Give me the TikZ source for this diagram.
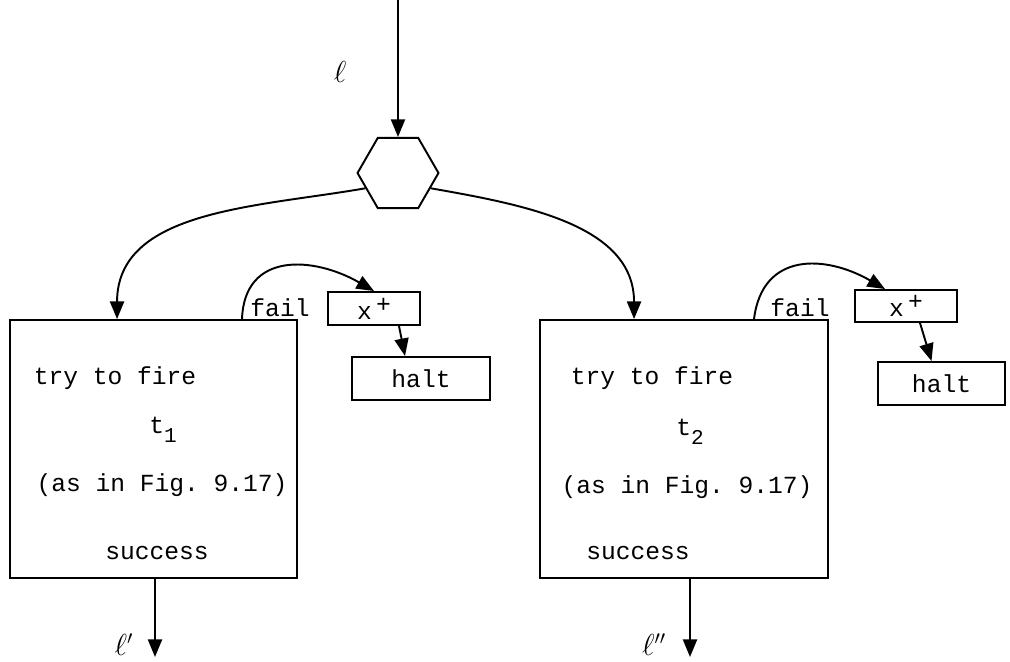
\documentclass[tikz,border=0pt]{standalone}
\usepackage{fontspec}
\setmonofont{Liberation Mono}
\usetikzlibrary{arrows.meta}
\usetikzlibrary{shapes.geometric}

\begin{document}
\begin{tikzpicture}[x=0.02cm,y=-0.02cm,line width=1.1pt,
  tw/.style={font=\ttfamily\fontsize{14}{16}\selectfont,inner sep=1pt},
  box/.style={draw,rectangle,inner sep=0pt},
  flow/.style={-{Triangle[length=10pt,width=8pt]}},
  lab/.style={font=\fontsize{16}{18}\selectfont}]
\useasboundingbox (0,0) rectangle (1010,662);

\node[regular polygon,regular polygon sides=6,draw,minimum size=1.62cm,inner sep=0pt] (choice) at (398,173) {};
\coordinate (entry) at (398,0);
\node[lab] (ell) at (340,72) {$\ell$};
\draw[flow] (entry) -- (choice.north);

% left branch
\node[box,minimum width=5.74cm,minimum height=5.16cm] (fire1) at (153.5,449) {};
\node[tw] (try1) at (115,378) {try to fire};
\node[tw] (t1) at (163,430) {t\raisebox{-5pt}{\fontsize{12}{14}\selectfont 1}};
\node[tw] (fig1) at (162,485) {(as in Fig. 9.17)};
\node[tw] (succ1) at (157,553) {success};
\node[tw,anchor=base] (fail1) at (280,316) {fail};
\node[box,tw,minimum width=1.84cm,minimum height=0.66cm] (inc1) at (374,308.5) {x\,\raisebox{4pt}{+}};
\node[box,tw,minimum width=2.76cm,minimum height=0.86cm] (halt1) at (421,378.5) {halt};
\coordinate (exit1) at (155,657);
\node[lab] (out1) at (124,645) {$\ell'$};

\draw[flow] (choice.205) to[out=190,in=90] ([xshift=2.16cm]fire1.north west);
\draw[flow] ([xshift=4.66cm]fire1.north west) to[out=88,in=150,looseness=1.3] (inc1.north);
\draw[flow] ([xshift=0.5cm]inc1.south) -- ([xshift=-0.32cm]halt1.north);
\draw[flow] (fire1.south -| exit1) -- (exit1);

% right branch
\node[box,minimum width=5.76cm,minimum height=5.16cm] (fire2) at (684,449) {};
\node[tw] (try2) at (652,378) {try to fire};
\node[tw] (t2) at (690,432) {t\raisebox{-5pt}{\fontsize{12}{14}\selectfont 2}};
\node[tw] (fig2) at (687,487) {(as in Fig. 9.17)};
\node[tw] (succ2) at (638,553) {success};
\node[tw,anchor=base] (fail2) at (800,316) {fail};
\node[box,tw,minimum width=2.04cm,minimum height=0.64cm] (inc2) at (906,306) {x\,\raisebox{4pt}{+}};
\node[box,tw,minimum width=2.54cm,minimum height=0.86cm] (halt2) at (941.5,383.5) {halt};
\coordinate (exit2) at (690,657);
\node[lab] (out2) at (654,645) {$\ell''$};

\draw[flow] (choice.-25) to[out=-10,in=90] ([xshift=1.9cm]fire2.north west);
\draw[flow] ([xshift=4.3cm]fire2.north west) to[out=83,in=150,looseness=1.3] ([xshift=-0.42cm]inc2.north);
\draw[flow] ([xshift=0.28cm]inc2.south) -- ([xshift=-0.2cm]halt2.north);
\draw[flow] (fire2.south -| exit2) -- (exit2);
\end{tikzpicture}
\end{document}
